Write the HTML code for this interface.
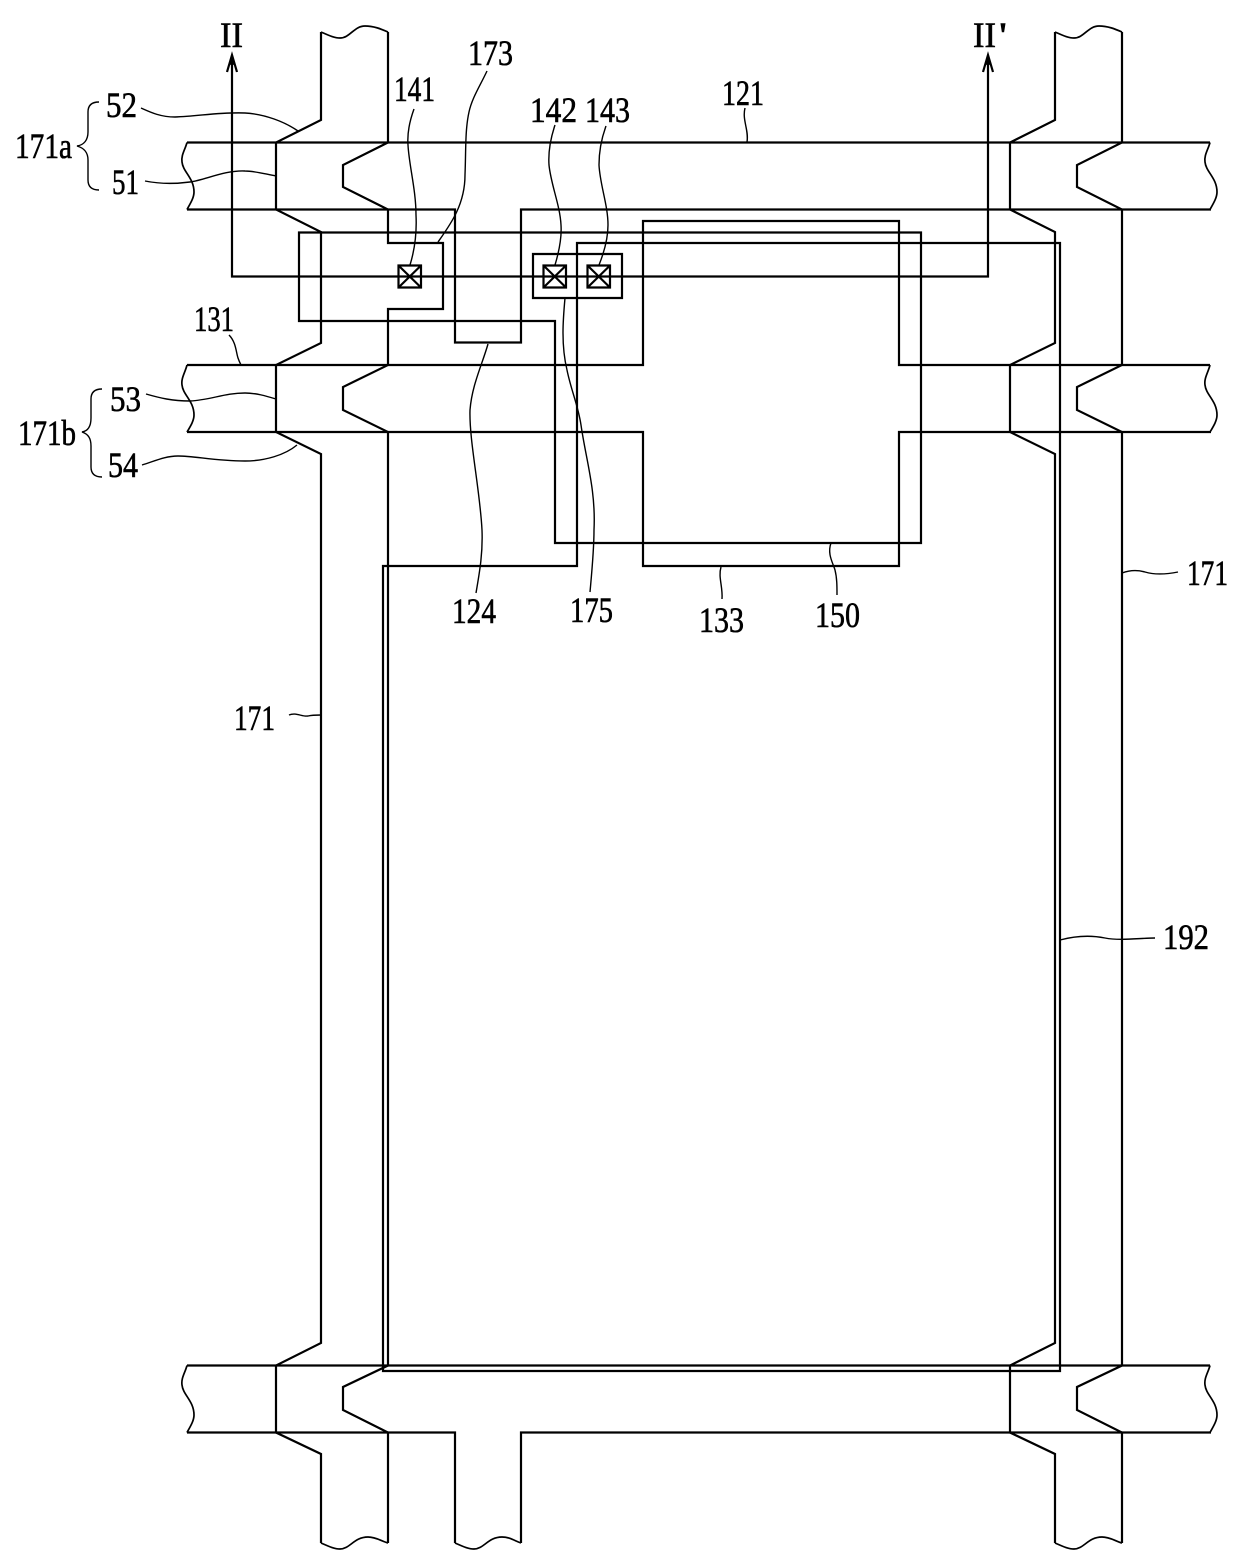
<!DOCTYPE html>
<html><head><meta charset="utf-8"><style>
html,body{margin:0;padding:0;background:#fff}
svg{display:block}
text{font-family:"Liberation Serif",serif;font-size:36px;fill:#000;stroke:#000;stroke-width:.6}
.m{fill:none;stroke:#000;stroke-width:2.2;stroke-linejoin:miter}
.w{fill:none;stroke:#000;stroke-width:1.7}
.t{fill:none;stroke:#000;stroke-width:1.4}
</style></head><body>
<svg width="1240" height="1565" viewBox="0 0 1240 1565" xmlns="http://www.w3.org/2000/svg">
<g class="m">
<!-- gate line 121 -->
<path d="M187 142.500H1210"/>
<path d="M187 209.500H455V342.500H521V209.500H1211"/>
<!-- storage line 131 / 133 -->
<path d="M187 365H643V221H899V365H1210"/>
<path d="M187 432H643V566H899V432H1211"/>
<!-- next gate line -->
<path d="M187 1365.500H1210"/>
<path d="M187 1432.500H455V1543M521 1543V1432.500H1211"/>
<!-- left data line -->
<path d="M321 32V120L276 142.500V209.500L321 232V343L276 365V432L321 454V1343L276 1365.500V1432.500L321 1454V1543"/>
<path d="M388 32V142.500L343 165V187L388 209.500V243H443V309H388V365L343 387V410L388 432V1365.500L343 1387V1410L388 1432.500V1543"/>
<!-- right data line -->
<path d="M1055 32V120L1010 142.500V209.500L1055 232V343L1010 365V432L1055 454V1343L1010 1365.500V1432.500L1055 1454V1543"/>
<path d="M1122 32V142.500L1077 165V187L1122 209.500V365L1077 387V410L1122 432V1365.500L1077 1387V1410L1122 1432.500V1543"/>
<!-- semiconductor 150 -->
<path d="M299 232.500H921V543H555V321H299Z"/>
<!-- 192 -->
<path d="M577 243H1060V1371H383V566H577Z"/>
<!-- contacts -->
<path d="M533 254H622V298H533Z"/>
<path d="M398.500 265.500H421V287.500H398.500ZM398.500 265.500L421 287.500M421 265.500L398.500 287.500"/>
<path d="M543.500 265.500H566V287.500H543.500ZM543.500 265.500L566 287.500M566 265.500L543.500 287.500"/>
<path d="M587.500 265.500H610V287.500H587.500ZM587.500 265.500L610 287.500M610 265.500L587.500 287.500"/>
<!-- section line -->
<path d="M232 56V276.500H988V56"/>
<path d="M227 72L232 55L237 72" />
<path d="M983 72L988 55L993 72" />
</g>
<path d="M232 53L228.500 66L232 64L235.500 66Z" fill="#000"/>
<path d="M988 53L984.500 66L988 64L991.500 66Z" fill="#000"/>
<g class="w">
<path d="M321 32C328 35 334 38 340 38C350 38 354 26 365 26C374 26 381 29 388 32"/>
<path d="M1055 32C1062 35 1068 38 1074 38C1084 38 1088 26 1099 26C1108 26 1115 29 1122 32"/>
<path d="M321 1543C328 1546 334 1549 340 1549C350 1549 354 1537 368 1537C376 1537 381 1541 388 1543"/>
<path d="M455 1543C462 1546 468 1549 474 1549C484 1549 488 1537 502 1537C510 1537 515 1541 521 1543"/>
<path d="M1055 1543C1062 1546 1068 1549 1074 1549C1084 1549 1088 1537 1102 1537C1110 1537 1115 1541 1122 1543"/>
<path d="M187 142.500C185 150 181 155 182 162C183 172 194 178 194 192C194 198 190 204 187 209.500"/>
<path d="M1210 142.500C1208 150 1204 155 1205 162C1206 172 1217 178 1217 192C1217 198 1213 204 1210 209.500"/>
<path d="M187 365C185 373 181 378 182 385C183 395 194 401 194 415C194 421 190 427 187 432"/>
<path d="M1210 365C1208 373 1204 378 1205 385C1206 395 1217 401 1217 415C1217 421 1213 427 1210 432"/>
<path d="M187 1365.500C185 1373 181 1378 182 1385C183 1395 194 1401 194 1415C194 1421 190 1427 187 1432.500"/>
<path d="M1210 1365.500C1208 1373 1204 1378 1205 1385C1206 1395 1217 1401 1217 1415C1217 1421 1213 1427 1210 1432.500"/>
</g>
<g class="t">
<!-- leaders -->
<path d="M745 108C742 120 749 130 747 142"/>
<path d="M414 109C410 120 407 132 408 145C409 165 416 190 416 215C417 235 414 252 410 265"/>
<path d="M487 71C480 86 472 98 469 112C465 130 466 150 465 175C465 205 450 225 438 242"/>
<path d="M555 125C551 137 548 150 549 165C551 185 560 205 561 225C562 240 558 255 555 265"/>
<path d="M606 126C602 137 599 150 599 165C600 185 608 205 608 225C608 240 603 255 599 265"/>
<path d="M565 298C563 320 561 345 567 370C571 390 578 405 581 425C586 460 596 490 594 530C594 550 592 570 590 592"/>
<path d="M488 344C482 365 472 385 470 410C469 440 480 490 482 530C483 555 479 575 476 593"/>
<path d="M721 567C718 577 723 587 722 599"/>
<path d="M831 543C827 554 833 563 835 570C837 578 837 586 837 595"/>
<path d="M141 108C150 112 160 117 175 117C200 116 220 112 245 113C265 114 285 122 298 131"/>
<path d="M145 181C160 184 175 184 190 182C205 180 225 170 245 171C255 171 265 174 276 176"/>
<path d="M146 394C160 398 172 401 190 401C210 400 225 393 245 393C256 393 266 396 276 399"/>
<path d="M142 465C155 461 165 456 178 456C195 456 215 461 245 461C265 461 285 455 297 445"/>
<path d="M229 335C236 342 236 352 238 358C239 361 240 363 241 365"/>
<path d="M1122 573C1130 570 1138 570 1145 572C1155 575 1168 574 1178 572"/>
<path d="M289 715C296 712 302 717 308 716C312 715 316 715 321 715"/>
<path d="M1060 940C1075 936 1090 935 1105 938C1120 941 1140 938 1155 938"/>
<!-- braces -->
<path d="M99 102C92 102 88 105 88 112V132C88 140 84 145 77 146C84 148 88 152 88 160V180C88 187 92 190 99 190"/>
<path d="M102 389C95 389 91 392 91 399V418C91 426 88 431 82 432C88 434 91 438 91 446V467C91 474 95 477 102 477"/>
</g>
<text x="220" y="47" textLength="23" lengthAdjust="spacingAndGlyphs">II</text>
<text x="973" y="47" textLength="23" lengthAdjust="spacingAndGlyphs">II</text>
<text x="999" y="47" textLength="8" lengthAdjust="spacingAndGlyphs">'</text>
<text x="394" y="101" textLength="41" lengthAdjust="spacingAndGlyphs">141</text>
<text x="468" y="65" textLength="45" lengthAdjust="spacingAndGlyphs">173</text>
<text x="530" y="122" textLength="47" lengthAdjust="spacingAndGlyphs">142</text>
<text x="585" y="122" textLength="45" lengthAdjust="spacingAndGlyphs">143</text>
<text x="722" y="105" textLength="42" lengthAdjust="spacingAndGlyphs">121</text>
<text x="106" y="117" textLength="31" lengthAdjust="spacingAndGlyphs">52</text>
<text x="15" y="158" textLength="57" lengthAdjust="spacingAndGlyphs">171a</text>
<text x="112" y="194" textLength="27" lengthAdjust="spacingAndGlyphs">51</text>
<text x="194" y="331" textLength="40" lengthAdjust="spacingAndGlyphs">131</text>
<text x="110" y="411" textLength="31" lengthAdjust="spacingAndGlyphs">53</text>
<text x="18" y="445" textLength="58" lengthAdjust="spacingAndGlyphs">171b</text>
<text x="108" y="477" textLength="30" lengthAdjust="spacingAndGlyphs">54</text>
<text x="452" y="623" textLength="44" lengthAdjust="spacingAndGlyphs">124</text>
<text x="570" y="622" textLength="43" lengthAdjust="spacingAndGlyphs">175</text>
<text x="699" y="632" textLength="45" lengthAdjust="spacingAndGlyphs">133</text>
<text x="815" y="627" textLength="45" lengthAdjust="spacingAndGlyphs">150</text>
<text x="1187" y="585" textLength="41" lengthAdjust="spacingAndGlyphs">171</text>
<text x="234" y="730" textLength="41" lengthAdjust="spacingAndGlyphs">171</text>
<text x="1163" y="949" textLength="46" lengthAdjust="spacingAndGlyphs">192</text>
</svg>
</body></html>
